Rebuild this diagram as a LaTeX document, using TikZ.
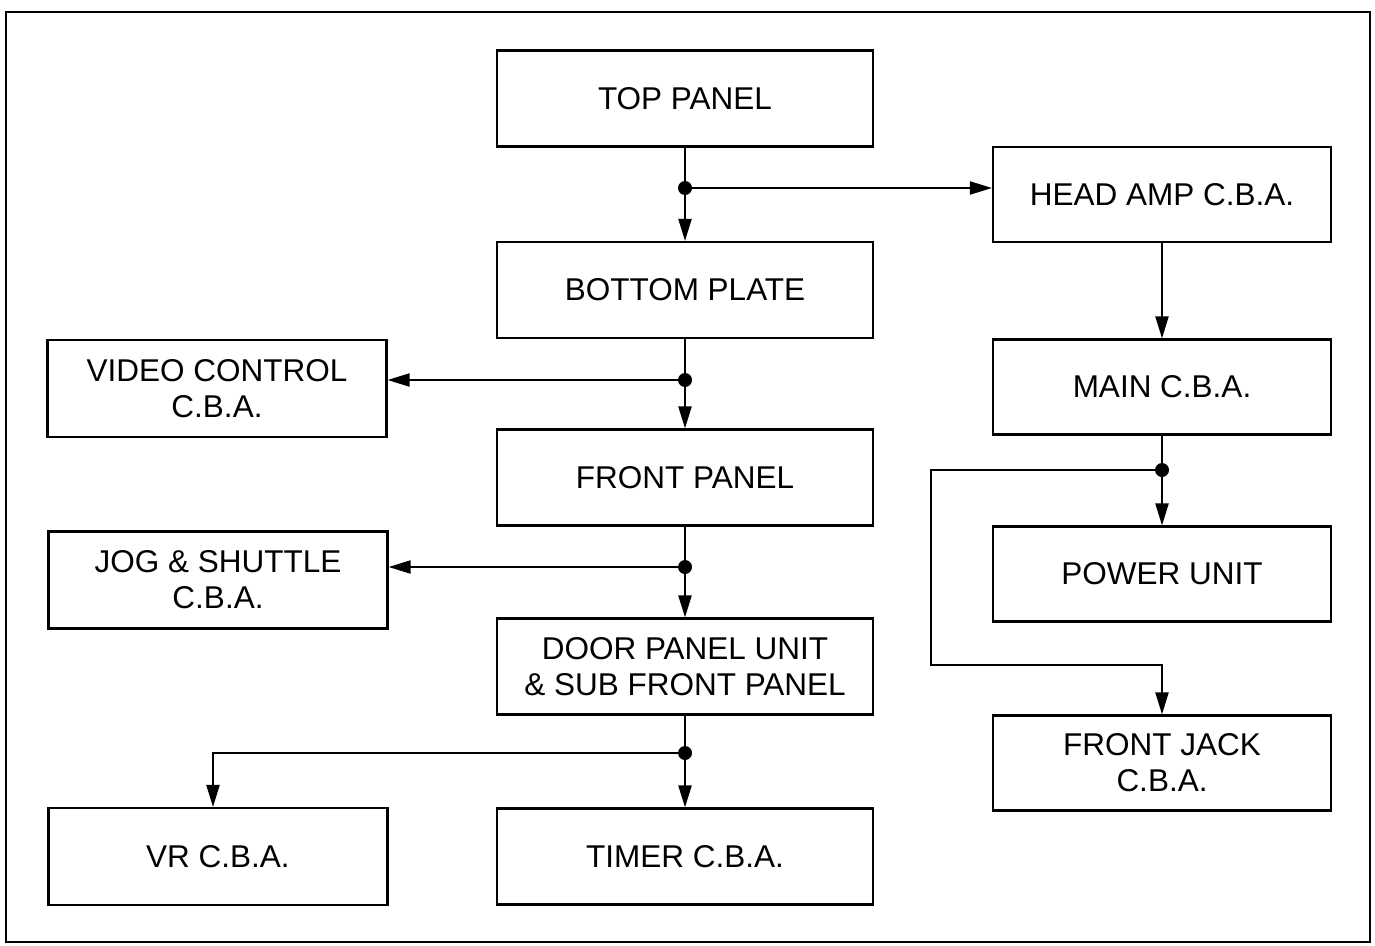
\documentclass[tikz,border=0pt]{standalone}
\usepackage{fontspec}
\setmainfont{Liberation Sans}
\usetikzlibrary{arrows.meta}
\tikzset{
  blk/.style={draw, line width=2.1pt, inner sep=0pt, align=center,
    font=\fontsize{31.5}{36}\selectfont},
  cbox/.style={blk, minimum width=376pt, minimum height=96pt},
  rbox/.style={blk, minimum width=338pt, minimum height=95pt},
  lbox/.style={blk, minimum width=339pt, minimum height=97pt},
  conn/.style={line width=2.1pt, -{Triangle[length=22pt,width=13pt]}},
  jdot/.style={fill=black}
}
\begin{document}
\begin{tikzpicture}[x=1pt,y=-1pt]
\useasboundingbox (0,0) rectangle (1375,945);
\draw[line width=2.6pt] (6,12) rectangle (1370,942);
% center column
\node[cbox] (top) at (685,98.5) {TOP PANEL};
\node[cbox] (bottom) at (685,290) {BOTTOM PLATE};
\node[cbox] (front) at (685,477.5) {FRONT PANEL};
\node[cbox] (door) at (685,666.5) {DOOR PANEL UNIT\\\& SUB FRONT PANEL};
\node[cbox] (timer) at (685,856.5) {TIMER C.B.A.};
% right column
\node[rbox] (headamp) at (1162,194.5) {HEAD AMP C.B.A.};
\node[rbox] (main) at (1162,387) {MAIN C.B.A.};
\node[rbox] (power) at (1162,574) {POWER UNIT};
\node[rbox] (jack) at (1162,763) {FRONT JACK\\C.B.A.};
% left column
\node[lbox] (video) at (217,388.5) {VIDEO CONTROL\\C.B.A.};
\node[lbox] (jog) at (218,580) {JOG \& SHUTTLE\\C.B.A.};
\node[lbox] (vr) at (218,856.5) {VR C.B.A.};
% junctions
\coordinate (d1) at (685,188);
\coordinate (d2) at (685,380);
\coordinate (d3) at (685,567);
\coordinate (d4) at (685,753);
\coordinate (d5) at (1162,470);
\coordinate (j1) at (931,470);
\coordinate (j2) at (931,665);
% connectors
\draw[conn] (top) -- (bottom);
\draw[conn] (d1) -- (d1 -| headamp.west);
\draw[conn] (bottom) -- (front);
\draw[conn] (d2) -- (d2 -| video.east);
\draw[conn] (front) -- (door);
\draw[conn] (d3) -- (d3 -| jog.east);
\draw[conn] (door) -- (timer);
\draw[conn] (d4) -| ([xshift=-5pt]vr.north);
\draw[conn] (headamp) -- (main);
\draw[conn] (main) -- (power);
\draw[conn] (d5) -- (j1) -- (j2) -| (jack.north);
% dots
\foreach \d in {d1,d2,d3,d4,d5} \fill[jdot] (\d) circle (7pt);
\end{tikzpicture}
\end{document}
